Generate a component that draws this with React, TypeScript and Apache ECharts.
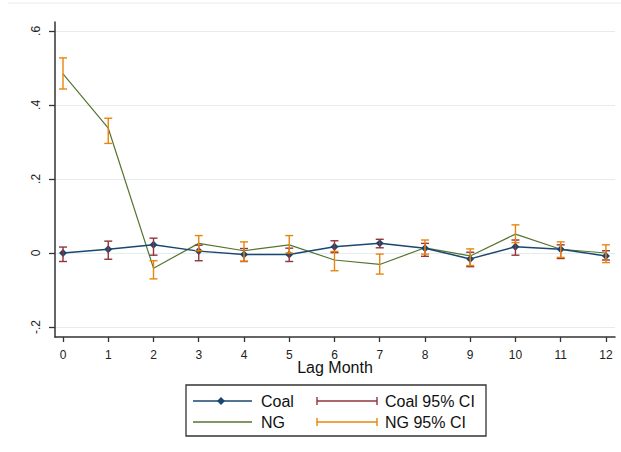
import React, { useEffect, useRef } from "react";
import * as echarts from "echarts";

const lags = [0, 1, 2, 3, 4, 5, 6, 7, 8, 9, 10, 11, 12];
const coalCoef = [0.0, 0.01, 0.022, 0.005, -0.004, -0.004, 0.017, 0.026, 0.013, -0.016, 0.017, 0.01, -0.008];
const coalLo = [-0.023, -0.017, -0.006, -0.021, -0.023, -0.023, 0.001, 0.014, -0.009, -0.037, -0.006, -0.015, -0.019];
const coalHi = [0.016, 0.032, 0.04, 0.021, 0.012, 0.013, 0.033, 0.037, 0.026, 0.002, 0.035, 0.022, 0.006];
const ngCoef = [0.484, 0.337, -0.041, 0.026, 0.006, 0.022, -0.019, -0.031, 0.014, -0.008, 0.051, 0.01, 0.0];
const ngLo = [0.443, 0.296, -0.07, 0.006, -0.022, 0.0, -0.048, -0.057, -0.003, -0.034, 0.028, -0.012, -0.026];
const ngHi = [0.527, 0.364, -0.021, 0.047, 0.03, 0.047, 0.004, -0.003, 0.035, 0.011, 0.076, 0.03, 0.022];
const yTicks = [-0.2, 0, 0.2, 0.4, 0.6];
const xTitle = "Lag Month";
const legendLabels = ["Coal", "Coal 95% CI", "NG", "NG 95% CI"];

const NAVY = "#1a476f";
const MAROON = "#90353b";
const GREEN = "#55752f";
const ORANGE = "#e8850c";
const FONT = "'Liberation Sans', Arial, sans-serif";

function ciRender(color: string) {
  return (params: any, api: any) => {
    const x = api.value(0);
    const lo = api.coord([x, api.value(1)]);
    const hi = api.coord([x, api.value(2)]);
    const w = 4;
    const style = { stroke: color, lineWidth: 1.4 };
    return {
      type: "group",
      children: [
        { type: "line", shape: { x1: lo[0], y1: lo[1], x2: hi[0], y2: hi[1] }, style },
        { type: "line", shape: { x1: hi[0] - w, y1: hi[1], x2: hi[0] + w, y2: hi[1] }, style },
        { type: "line", shape: { x1: lo[0] - w, y1: lo[1], x2: lo[0] + w, y2: lo[1] }, style },
      ],
    };
  };
}

function fmtY(v: number) {
  if (Math.abs(v) < 1e-9) return "0";
  const s = String(Math.round(Math.abs(v) * 10) / 10).replace(/^0/, "");
  return (v < 0 ? "-" : "") + s;
}

export default function App() {
  const ref = useRef<HTMLDivElement>(null);
  useEffect(() => {
    if (!ref.current) return;
    const chart = echarts.init(ref.current, null, { renderer: "svg" });
    const lx = 186, ly = 385, lw = 300, lh = 51;
    const r1 = 401, r2 = 422;
    const ciSample = (x1: number, x2: number, y: number, color: string) => [
      { type: "line", shape: { x1, y1: y, x2, y2: y }, style: { stroke: color, lineWidth: 1.4 } },
      { type: "line", shape: { x1, y1: y - 4, x2: x1, y2: y + 4 }, style: { stroke: color, lineWidth: 1.4 } },
      { type: "line", shape: { x1: x2, y1: y - 4, x2, y2: y + 4 }, style: { stroke: color, lineWidth: 1.4 } },
    ];
    const txt = (x: number, y: number, t: string) => ({
      type: "text",
      x,
      y,
      style: { text: t, font: `16px ${FONT}`, fill: "#111", textVerticalAlign: "middle" },
    });
    chart.setOption({
      animation: false,
      backgroundColor: "#fff",
      grid: { left: 55, right: 6, top: 22, bottom: 115, containLabel: false },
      xAxis: {
        type: "value",
        min: -0.177,
        max: 12.2,
        name: xTitle,
        nameLocation: "middle",
        nameGap: 22,
        nameMoveOverlap: false,
        nameTextStyle: { fontFamily: FONT, fontSize: 16, color: "#111" },
        axisLine: { show: true, onZero: false, lineStyle: { color: "#333", width: 1.5 } },
        axisTick: { show: true, length: 5, customValues: lags, lineStyle: { color: "#333", width: 1.3 } },
        axisLabel: { customValues: lags, fontFamily: FONT, fontSize: 12, color: "#222", margin: 12 },
        splitLine: { show: false },
      },
      yAxis: {
        type: "value",
        min: -0.227,
        max: 0.624,
        axisLine: { show: true, onZero: false, lineStyle: { color: "#333", width: 1.5 } },
        axisTick: { show: true, length: 6, customValues: yTicks, lineStyle: { color: "#333", width: 1.3 } },
        axisLabel: {
          customValues: yTicks,
          rotate: 90,
          fontFamily: FONT,
          fontSize: 12,
          color: "#222",
          margin: 13,
          formatter: (v: number) => fmtY(v),
        },
        splitLine: { show: true, lineStyle: { color: "#e4ecef", width: 1 } },
      },
      series: [
        {
          name: "NG",
          type: "line",
          data: lags.map((l, i) => [l, ngCoef[i]]),
          showSymbol: false,
          symbol: "none",
          lineStyle: { color: GREEN, width: 1.2 },
          itemStyle: { color: GREEN },
          z: 2,
        },
        {
          name: "Coal",
          type: "line",
          data: lags.map((l, i) => [l, coalCoef[i]]),
          symbol: "diamond",
          symbolSize: 8,
          lineStyle: { color: NAVY, width: 1.5 },
          itemStyle: { color: NAVY },
          z: 3,
        },
        {
          name: "Coal 95% CI",
          type: "custom",
          data: lags.map((l, i) => [l, coalLo[i], coalHi[i]]),
          encode: { x: 0, y: [1, 2] },
          renderItem: ciRender(MAROON),
          z: 4,
        },
        {
          name: "NG 95% CI",
          type: "custom",
          data: lags.map((l, i) => [l, ngLo[i], ngHi[i]]),
          encode: { x: 0, y: [1, 2] },
          renderItem: ciRender(ORANGE),
          z: 5,
        },
      ],
      graphic: [
        { type: "line", shape: { x1: 8, y1: 3, x2: 621, y2: 3 }, style: { stroke: "#e8edf1", lineWidth: 1 } },
        {
          type: "rect",
          shape: { x: lx, y: ly, width: lw, height: lh },
          style: { fill: "#fff", stroke: "#333", lineWidth: 1.3 },
        },
        { type: "line", shape: { x1: 193, y1: r1, x2: 252, y2: r1 }, style: { stroke: NAVY, lineWidth: 1.5 } },
        {
          type: "polygon",
          shape: { points: [[221, r1 - 4], [225, r1], [221, r1 + 4], [217, r1]] },
          style: { fill: NAVY },
        },
        txt(261, r1, legendLabels[0]),
        ...ciSample(317, 377, r1, MAROON),
        txt(385, r1, legendLabels[1]),
        { type: "line", shape: { x1: 193, y1: r2, x2: 252, y2: r2 }, style: { stroke: GREEN, lineWidth: 1.5 } },
        txt(261, r2, legendLabels[2]),
        ...ciSample(317, 377, r2, ORANGE),
        txt(385, r2, legendLabels[3]),
      ],
    });
    return () => chart.dispose();
  }, []);
  return <div ref={ref} style={{ position: "absolute", left: 0, top: 0, width: 621, height: 452 }} />;
}
